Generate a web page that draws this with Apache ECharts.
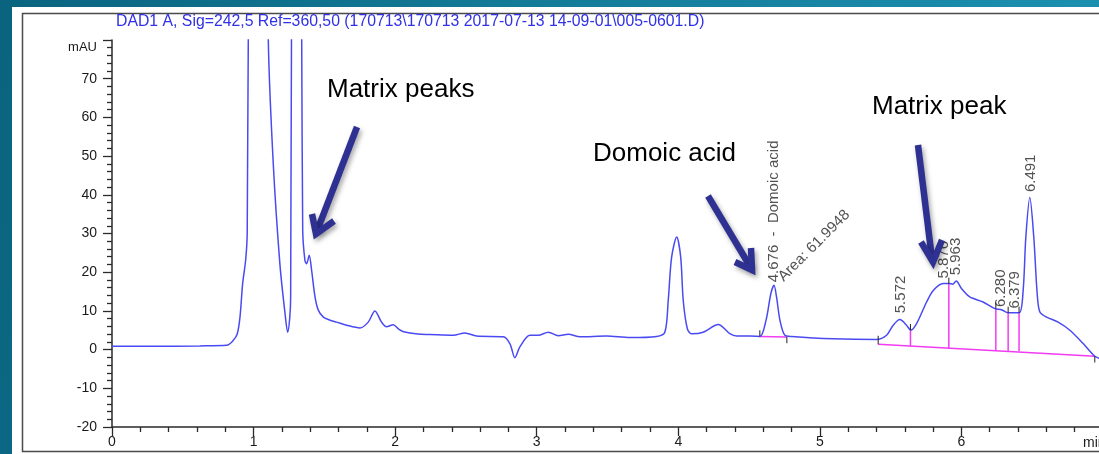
<!DOCTYPE html>
<html><head><meta charset="utf-8">
<script src="https://cdn.jsdelivr.net/npm/echarts@6/dist/echarts.min.js"></script>
<style>html,body{margin:0;padding:0;background:#fff;overflow:hidden}#c{width:1099px;height:454px}</style>
</head><body><div id="c"></div>
<script>
// ---- data ----
const signalTime = [0.00,0.27,0.62,0.81,0.857,0.885,0.904,0.923,0.944,0.955,0.963,1.03,1.104,1.139,1.186,1.222,1.241,1.255,1.262,1.268,1.30,1.34,1.347,1.363,1.375,1.393,1.41,1.434,1.457,1.493,1.540,1.587,1.657,1.751,1.81,1.857,1.904,1.939,1.986,2.025,2.06,2.16,2.245,2.41,2.493,2.575,2.764,2.811,2.846,2.881,2.952,3.01,3.082,3.152,3.223,3.305,3.493,3.658,3.846,3.905,3.929,3.953,3.989,4.017,4.035,4.064,4.094,4.176,4.282,4.364,4.412,4.506,4.576,4.62,4.654,4.676,4.694,4.718,4.753,4.80,5.094,5.40,5.471,5.518,5.565,5.612,5.643,5.683,5.754,5.801,5.871,5.914,5.938,5.963,6.0,6.059,6.153,6.236,6.283,6.33,6.408,6.436,6.455,6.483,6.511,6.535,6.554,6.601,6.683,6.766,6.86,6.942,6.98];
const signalMAU = [0.85,0.85,0.95,1.1,2.4,4.1,8.4,17.1,23.1,30.0,82,260,80,48.1,22.1,9.4,4.5,8.0,13.6,82,200,80,30.8,23.0,22.2,24.4,20.5,13.6,10.2,8.4,7.6,7.1,6.3,5.6,7.1,10.0,7.1,5.9,6.4,5.3,4.6,4.0,3.9,3.7,4.3,3.5,3.3,1.5,-2.1,0.7,3.7,3.7,4.5,3.6,3.95,3.3,3.5,3.1,3.4,4.5,12.7,23.9,29.1,23.9,12.7,5.4,4.1,4.5,6.5,4.1,3.5,3.5,3.4,7.6,14.5,16.6,13.6,7.6,3.7,3.4,2.8,2.6,3.7,6.3,7.75,6.3,5.0,6.7,12.3,15.3,17.1,17.1,16.9,17.7,15.8,13.6,12.3,10.6,10.3,9.5,9.5,15.3,29.1,39.3,29.1,14.5,9.7,8.4,7.1,5.0,1.55,-1.73,-2.3];

const xTickValues = [0,1,2,3,4,5,6];
const yTickValues = [-20,-10,0,10,20,30,40,50,60,70];

const peakTimes = [5.572,5.876,5.963,6.280,6.379,6.491];
const peakLabelText = ['5.572','5.876','5.963','6.280','6.379','6.491'];
const peakLabelBase = [9.4,18.4,19.2,11.0,10.6,40.7];

const domoicTime = 4.676;
const domoicLabelBase = 17.4;
const domoicLabelText = '4.676  -  Domoic acid';
const domoicAreaText = 'Area: 61.9948';
const domoicAreaAnchor = [4.724, 18.2];

const domoicBaseTime = [4.576,4.767];
const domoicBaseMAU = [3.4,3.25];
const matrixBaseTime = [5.412,6.942];
const matrixBaseMAU = [1.37,-1.73];

const dropTimes = [5.640,5.911,6.243,6.330,6.407];
const dropBottom = [0.85,0.25,-0.2,-0.35,-0.45];
const dropTop = [5.0,17.0,10.6,9.5,9.5];

const titleText = 'DAD1 A, Sig=242,5 Ref=360,50 (170713\\170713 2017-07-13 14-09-01\\005-0601.D)';
// -----------------------------------------

const FONT = "'Liberation Sans', Arial, sans-serif";
const chart = echarts.init(document.getElementById('c'), null, {renderer:'canvas'});

const pairs = (ts, vs) => ts.map((t,i)=>[t, vs[i]]);
const MAG = '#f23cf2';

const series = [];
series.push({
  type:'line', name:'signal', data: pairs(signalTime, signalMAU),
  showSymbol:false, smooth:0.3, clip:true, z:5,
  lineStyle:{color:'#4a4af2', width:1.5}
});
series.push({type:'line', data: pairs(domoicBaseTime, domoicBaseMAU), showSymbol:false, z:4, lineStyle:{color:MAG, width:1.5}});
series.push({type:'line', data: pairs(matrixBaseTime, matrixBaseMAU), showSymbol:false, z:4, lineStyle:{color:MAG, width:1.5}});
dropTimes.forEach((t,i)=>{
  series.push({type:'line', data:[[t,dropBottom[i]],[t,dropTop[i]]], showSymbol:false, z:4, lineStyle:{color:MAG, width:1.5}});
  series.push({type:'line', data:[[t,dropTop[i]],[t,dropTop[i]+1.6]], showSymbol:false, z:6, lineStyle:{color:'#222', width:1}});
});
// black integration end ticks
series.push({type:'line', data:[[domoicBaseTime[0],domoicBaseMAU[0]],[domoicBaseTime[0],domoicBaseMAU[0]+1.6]], showSymbol:false, z:6, lineStyle:{color:'#222', width:1}});
series.push({type:'line', data:[[domoicBaseTime[1],domoicBaseMAU[1]],[domoicBaseTime[1],domoicBaseMAU[1]-1.6]], showSymbol:false, z:6, lineStyle:{color:'#222', width:1}});
series.push({type:'line', data:[[matrixBaseTime[0],matrixBaseMAU[0]],[matrixBaseTime[0],matrixBaseMAU[0]+2.2]], showSymbol:false, z:6, lineStyle:{color:'#222', width:1}});
series.push({type:'line', data:[[matrixBaseTime[1],matrixBaseMAU[1]],[matrixBaseTime[1],matrixBaseMAU[1]-1.6]], showSymbol:false, z:6, lineStyle:{color:'#222', width:1}});

const labelStyle = {show:true, position:[0,0], rotate:90, align:'left', verticalAlign:'middle',
  fontFamily:FONT, fontSize:15, color:'#262626'};
series.push({
  type:'scatter', symbolSize:0, z:7, silent:true,
  data: peakTimes.map((t,i)=>[t, peakLabelBase[i]]),
  label: Object.assign({}, labelStyle, {formatter: p => peakLabelText[p.dataIndex]})
});
series.push({
  type:'scatter', symbolSize:0, z:7, silent:true,
  data: [[domoicTime, domoicLabelBase]],
  label: Object.assign({}, labelStyle, {formatter: domoicLabelText})
});
series.push({
  type:'scatter', symbolSize:0, z:7, silent:true,
  data: [domoicAreaAnchor],
  label: Object.assign({}, labelStyle, {rotate:45, formatter: domoicAreaText})
});

const arrowStyle = {stroke:'#2e3192', lineWidth:6.5, fill:null, lineJoin:'miter', lineCap:'butt',
  shadowBlur:5, shadowOffsetX:2, shadowOffsetY:3, shadowColor:'rgba(0,0,0,0.35)'};
function arrow(shaft, head){
  return [
    {type:'polyline', z:100, shape:{points:shaft}, style:arrowStyle},
    {type:'polyline', z:100, shape:{points:head}, style:arrowStyle}
  ];
}
const annText = (x,y,t)=>({type:'text', z:100, x, y, style:{text:t, fontFamily:FONT, fontSize:26, fill:'#000', verticalAlign:'middle'}});

const graphic = [
  {type:'rect', z:-10, shape:{x:12,y:7,width:1090,height:450}, style:{fill:'#ffffff'}},
  {type:'rect', z:-9, shape:{x:22.5,y:13.5,width:1100,height:438}, style:{fill:null, stroke:'#4a4a4a', lineWidth:1.5}},
  {type:'text', z:50, x:116, y:22, style:{text:titleText, fontFamily:FONT, fontSize:15.8, fill:'#3030e6', verticalAlign:'middle'}},
  {type:'text', z:50, x:97, y:47, style:{text:'mAU', fontFamily:FONT, fontSize:13, fill:'#1a1a1a', align:'right', verticalAlign:'middle'}},
  {type:'text', z:50, x:1083, y:443, style:{text:'min', fontFamily:FONT, fontSize:14, fill:'#1a1a1a', verticalAlign:'middle'}},
  annText(327,90,'Matrix peaks'),
  annText(593,154,'Domoic acid'),
  annText(872,107,'Matrix peak'),
  ...arrow([[357,127],[317,231]], [[312,214],[316,234],[334,221]]),
  ...arrow([[708,196],[751,268]], [[735,262],[752,270],[751,248]]),
  ...arrow([[918,145],[932,259]], [[921,242],[933,262],[942,240]])
];

chart.setOption({
  animation:false,
  backgroundColor:{type:'linear', x:0, y:0, x2:1, y2:0.3, colorStops:[{offset:0,color:'#0a6480'},{offset:0.5,color:'#147c99'},{offset:1,color:'#1d90b0'}]},
  grid:{left:112, top:40, width:991, height:387, containLabel:false, outerBoundsMode:'none'},
  xAxis:{type:'value', min:0, max:7, interval:1,
    axisLine:{show:true, onZero:false, lineStyle:{color:'#2a2a2a', width:1.5}},
    axisTick:{show:true, length:9, lineStyle:{color:'#2a2a2a', width:1.3}},
    minorTick:{show:true, splitNumber:5, length:5, lineStyle:{color:'#2a2a2a', width:1.3}},
    splitLine:{show:false}, minorSplitLine:{show:false},
    axisLabel:{show:true, margin:8, fontFamily:FONT, fontSize:14, color:'#1a1a1a', showMaxLabel:false,
      formatter: v => xTickValues.includes(v) ? String(v) : ''}
  },
  yAxis:{type:'value', min:-20, max:80, interval:10,
    axisLine:{show:true, onZero:false, lineStyle:{color:'#2a2a2a', width:1.5}},
    axisTick:{show:true, length:9, lineStyle:{color:'#2a2a2a', width:1.3}},
    minorTick:{show:true, splitNumber:5, length:5, lineStyle:{color:'#2a2a2a', width:1.3}},
    splitLine:{show:false}, minorSplitLine:{show:false},
    axisLabel:{show:true, margin:15, fontFamily:FONT, fontSize:14, color:'#1a1a1a',
      formatter: v => yTickValues.includes(v) ? String(v) : ''}
  },
  graphic: graphic,
  series: series
});
</script></body></html>
